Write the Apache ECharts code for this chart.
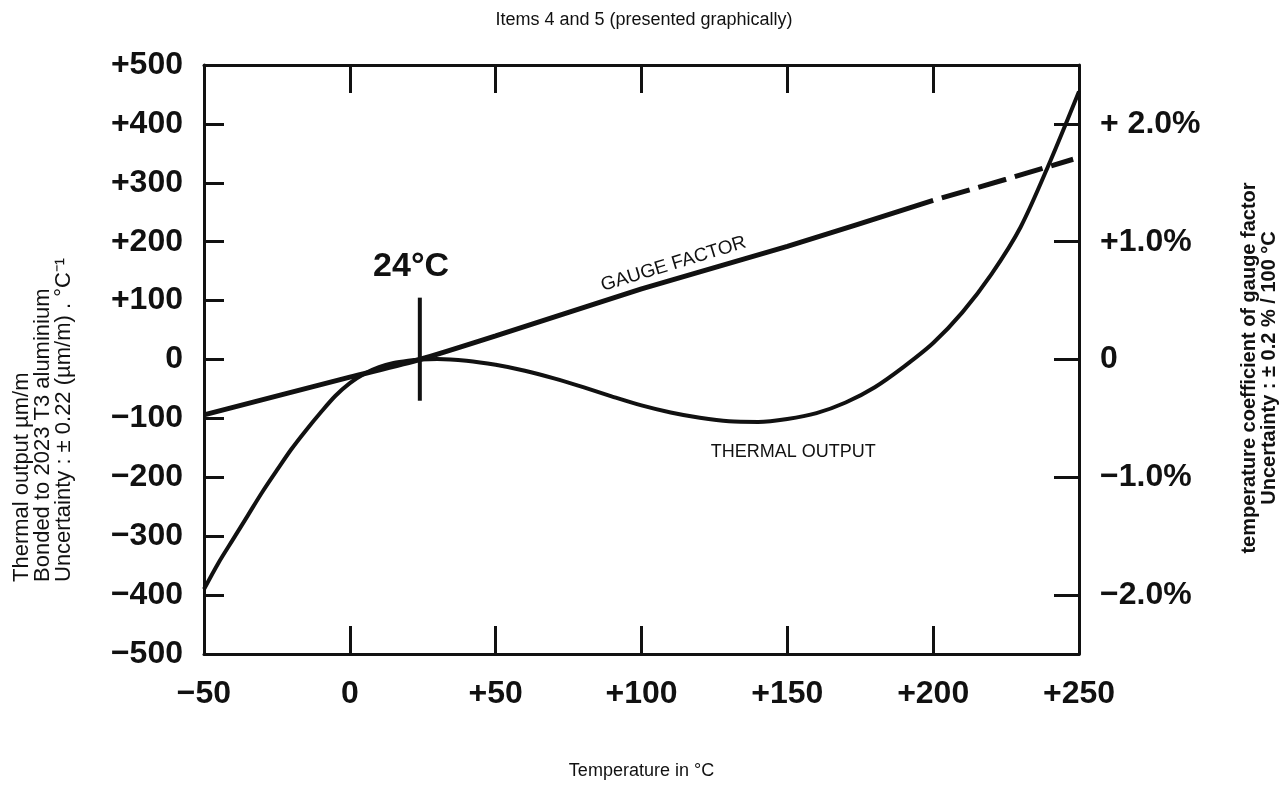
<!DOCTYPE html>
<html><head><meta charset="utf-8">
<script src="https://cdn.jsdelivr.net/npm/echarts@6/dist/echarts.min.js"></script>
<style>html,body{margin:0;padding:0;background:#fff}#c{width:1288px;height:785px}</style>
</head><body><div id="c"></div>
<script>
const chartTitle = 'Items 4 and 5 (presented graphically)';
const xAxisName = 'Temperature in °C';
const leftAxisName = ['Thermal output µm/m', 'Bonded to 2023 T3 aluminium', 'Uncertainty : ± 0.22 (µm/m) . °C⁻¹'];
const rightAxisName = ['temperature coefficient of gauge factor', 'Uncertainty : ± 0.2 % / 100 °C'];

const xTicks = [-50, 0, 50, 100, 150, 200, 250];
const xTickLabels = ['−50', '0', '+50', '+100', '+150', '+200', '+250'];
const leftTicks = [500, 400, 300, 200, 100, 0, -100, -200, -300, -400, -500];
const leftTickLabels = ['+500', '+400', '+300', '+200', '+100', '0', '−100', '−200', '−300', '−400', '−500'];
const rightTicks = [2, 1, 0, -1, -2];
const rightTickLabels = ['+ 2.0%', '+1.0%', '0', '−1.0%', '−2.0%'];

// Thermal output (µm/m) vs temperature (°C)
const thermalT = [-50, -45, -40, -35, -30, -25, -20, -15, -10, -5, 0, 5, 10, 15, 20, 24, 30, 40, 50, 60, 70, 80, 90, 100, 110, 120, 130, 140, 150, 160, 170, 180, 190, 200, 210, 220, 230, 240, 250];
const thermalOutput = [-390, -345, -305, -265, -225, -188, -152, -120, -90, -62, -40, -24, -13, -6, -2, 0, 1, -2, -9, -19, -32, -47, -63, -78, -90, -99, -105, -106, -101, -91, -73, -47, -12, 28, 80, 145, 225, 335, 455];

// Gauge factor change (%) vs temperature (°C)
const gaugeT = [-50, 0, 24, 50, 100, 150, 200];
const gaugeFactor = [-0.47, -0.15, 0, 0.2, 0.6, 0.96, 1.35];
const gaugeExtT = [200, 225, 248];
const gaugeExt = [1.35, 1.53, 1.70];

// 24 °C reference marker
const markerT = [24, 24];
const markerV = [105, -70];

// annotations
const annText = ['24°C', 'GAUGE FACTOR', 'THERMAL OUTPUT'];
const annT = [21, 111, 152];
const annV = [157, 162, -157];

const INK = '#111';
const FONT = '"Liberation Sans", Arial, sans-serif';

function lookup(ticks, labels) {
  return function (v) {
    for (let i = 0; i < ticks.length; i++) if (Math.abs(ticks[i] - v) < 1e-6) return labels[i];
    return '';
  };
}

const annStyles = [
  { fontSize: 34, fontWeight: 'bold', rotate: 0 },
  { fontSize: 19, fontWeight: 'normal', rotate: 17 },
  { fontSize: 18, fontWeight: 'normal', rotate: 0 }
];

const chart = echarts.init(document.getElementById('c'), null, { renderer: 'canvas' });
const axisLineStyle = { color: INK, width: 3 };

chart.setOption({
  animation: false,
  backgroundColor: '#fff',
  textStyle: { fontFamily: FONT, color: INK },
  title: {
    text: chartTitle, left: 'center', top: 6,
    textStyle: { fontFamily: FONT, fontSize: 18, fontWeight: 'normal', color: INK }
  },
  grid: { left: 204, right: 209, top: 65, bottom: 122, containLabel: false },
  xAxis: [{
    type: 'value', min: -50, max: 250, interval: 50, position: 'bottom',
    axisLine: { show: true, onZero: false, lineStyle: axisLineStyle },
    axisTick: { show: true, inside: true, length: 28, lineStyle: { color: INK, width: 3 } },
    axisLabel: { show: true, margin: 24, fontSize: 32, fontWeight: 'bold', color: INK, fontFamily: FONT, formatter: lookup(xTicks, xTickLabels) },
    splitLine: { show: false },
    name: xAxisName, nameLocation: 'middle', nameGap: 108,
    nameTextStyle: { fontSize: 18, color: INK, fontFamily: FONT }
  }, {
    type: 'value', min: -50, max: 250, interval: 50, position: 'top',
    axisLine: { show: true, onZero: false, lineStyle: axisLineStyle },
    axisTick: { show: true, inside: true, length: 28, lineStyle: { color: INK, width: 3 } },
    axisLabel: { show: false },
    splitLine: { show: false }
  }],
  yAxis: [{
    type: 'value', min: -500, max: 500, interval: 100, position: 'left',
    axisLine: { show: true, onZero: false, lineStyle: axisLineStyle },
    axisTick: { show: true, inside: true, length: 20, lineStyle: { color: INK, width: 3 } },
    axisLabel: { show: true, margin: 21, fontSize: 32, fontWeight: 'bold', color: INK, fontFamily: FONT, formatter: lookup(leftTicks, leftTickLabels) },
    splitLine: { show: false }
  }, {
    type: 'value', min: -2.5, max: 2.5, position: 'right',
    axisLine: { show: true, onZero: false, lineStyle: axisLineStyle },
    axisTick: { show: true, inside: true, length: 25, customValues: rightTicks, lineStyle: { color: INK, width: 3 } },
    axisLabel: { show: true, margin: 21, fontSize: 32, fontWeight: 'bold', color: INK, fontFamily: FONT, customValues: rightTicks, formatter: lookup(rightTicks, rightTickLabels) },
    splitLine: { show: false }
  }],
  graphic: [{
    type: 'text', x: 11, y: 582, rotation: Math.PI / 2,
    style: { text: leftAxisName.join('\n'), fontSize: 22, fontFamily: FONT, fill: INK, align: 'left', verticalAlign: 'top', lineHeight: 21 }
  }, {
    type: 'text', x: 1239, y: 368, rotation: Math.PI / 2,
    style: { text: rightAxisName.join('\n'), fontSize: 20, fontWeight: 'bold', fontFamily: FONT, fill: INK, align: 'center', verticalAlign: 'top', lineHeight: 20 }
  }],
  series: [{
    name: 'Thermal output', type: 'line', xAxisIndex: 0, yAxisIndex: 0,
    data: thermalT.map((t, i) => [t, thermalOutput[i]]),
    smooth: 0.3, showSymbol: false, symbol: 'none',
    lineStyle: { color: INK, width: 4 }, z: 3
  }, {
    name: 'Gauge factor', type: 'line', xAxisIndex: 0, yAxisIndex: 1,
    data: gaugeT.map((t, i) => [t, gaugeFactor[i]]),
    smooth: 0.2, showSymbol: false, symbol: 'none',
    lineStyle: { color: INK, width: 5 }, z: 3
  }, {
    name: 'Gauge factor (extrapolated)', type: 'line', xAxisIndex: 0, yAxisIndex: 1,
    data: gaugeExtT.map((t, i) => [t, gaugeExt[i]]),
    showSymbol: false, symbol: 'none',
    lineStyle: { color: INK, width: 5, type: [29, 9], dashOffset: 29 }, z: 3
  }, {
    name: '24 °C', type: 'line', xAxisIndex: 0, yAxisIndex: 0,
    data: markerT.map((t, i) => [t, markerV[i]]),
    showSymbol: false, symbol: 'none',
    lineStyle: { color: INK, width: 4 }, z: 4
  }, {
    name: 'labels', type: 'scatter', xAxisIndex: 0, yAxisIndex: 0,
    symbolSize: 0, silent: true, z: 5,
    itemStyle: { opacity: 1 },
    data: annT.map((t, i) => ({
      value: [t, annV[i]],
      label: {
        show: true, position: 'inside', formatter: annText[i], opacity: 1,
        fontSize: annStyles[i].fontSize, fontWeight: annStyles[i].fontWeight,
        rotate: annStyles[i].rotate, color: INK, fontFamily: FONT
      }
    }))
  }]
});
</script>
</body></html>
